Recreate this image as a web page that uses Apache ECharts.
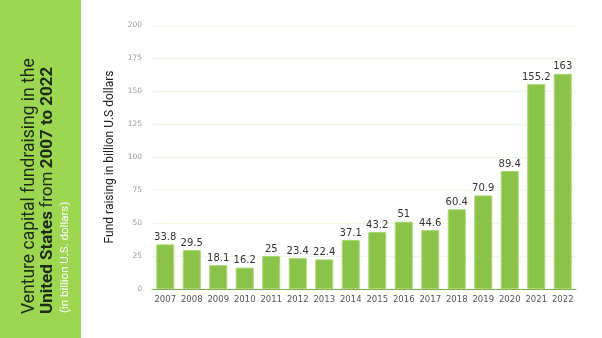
<!DOCTYPE html>
<html><head><meta charset="utf-8">
<script src="https://cdn.jsdelivr.net/npm/echarts@6/dist/echarts.min.js"></script>
<style>html,body{margin:0;padding:0;background:#fff}#c{width:602px;height:338px}</style>
</head><body><div id="c"></div>
<script>
const years = ['2007','2008','2009','2010','2011','2012','2013','2014','2015','2016','2017','2018','2019','2020','2021','2022'];
const values = [33.8,29.5,18.1,16.2,25,23.4,22.4,37.1,43.2,51,44.6,60.4,70.9,89.4,155.2,163];
const yTicks = [0,25,50,75,100,125,150,175,200];

const chart = echarts.init(document.getElementById('c'), null, {renderer:'canvas'});
chart.setOption({
  animation:false,
  backgroundColor:'#fff',
  grid:{left:152,right:26,top:25,bottom:49},
  xAxis:{type:'category',data:years,
    axisLine:{lineStyle:{color:'#7fae4c',width:1}},
    axisTick:{show:false},
    axisLabel:{interval:0,color:'#555',fontSize:8.5,fontFamily:'DejaVu Sans',margin:6}
  },
  yAxis:{type:'value',min:yTicks[0],max:yTicks[yTicks.length-1],interval:25,
    name:'Fund raising in billion U.S dollars',nameLocation:'middle',nameGap:36,
    nameTextStyle:{color:'#222',fontSize:12,fontFamily:'Roboto'},
    axisLine:{show:false},axisTick:{show:false},
    axisLabel:{color:'#999',fontSize:7.5,fontFamily:'DejaVu Sans',margin:10},
    splitLine:{lineStyle:{color:'#eef6e4',width:1}}
  },
  series:[{type:'bar',data:values,barWidth:18,
    itemStyle:{color:'#8bc34a',borderColor:'#a8d870',borderWidth:1},
    label:{show:true,position:'top',color:'#333',fontSize:10,fontFamily:'DejaVu Sans',distance:2}
  }],
  graphic:[
    {type:'rect',shape:{x:0,y:0,width:81,height:338},style:{fill:'#9dd650'}},
    {type:'text',x:30,y:314,rotation:Math.PI/2,style:{text:'Venture capital fundraising in the',fill:'#1e2a14',font:'17.5px Roboto',textAlign:'left',textVerticalAlign:'middle'}},
    {type:'text',x:48,y:314,rotation:Math.PI/2,style:{text:'{b|United States} {r|from} {b|2007 to 2022}',textAlign:'left',textVerticalAlign:'middle',
      rich:{b:{fill:'#1e2a14',font:'bold 17px Roboto'},r:{fill:'#1e2a14',font:'17px Roboto'}}}},
    {type:'text',x:65,y:313,rotation:Math.PI/2,style:{text:'(in billion U.S. dollars)',fill:'#fff',font:'11.5px Roboto',textAlign:'left',textVerticalAlign:'middle'}}
  ]
});
</script></body></html>
